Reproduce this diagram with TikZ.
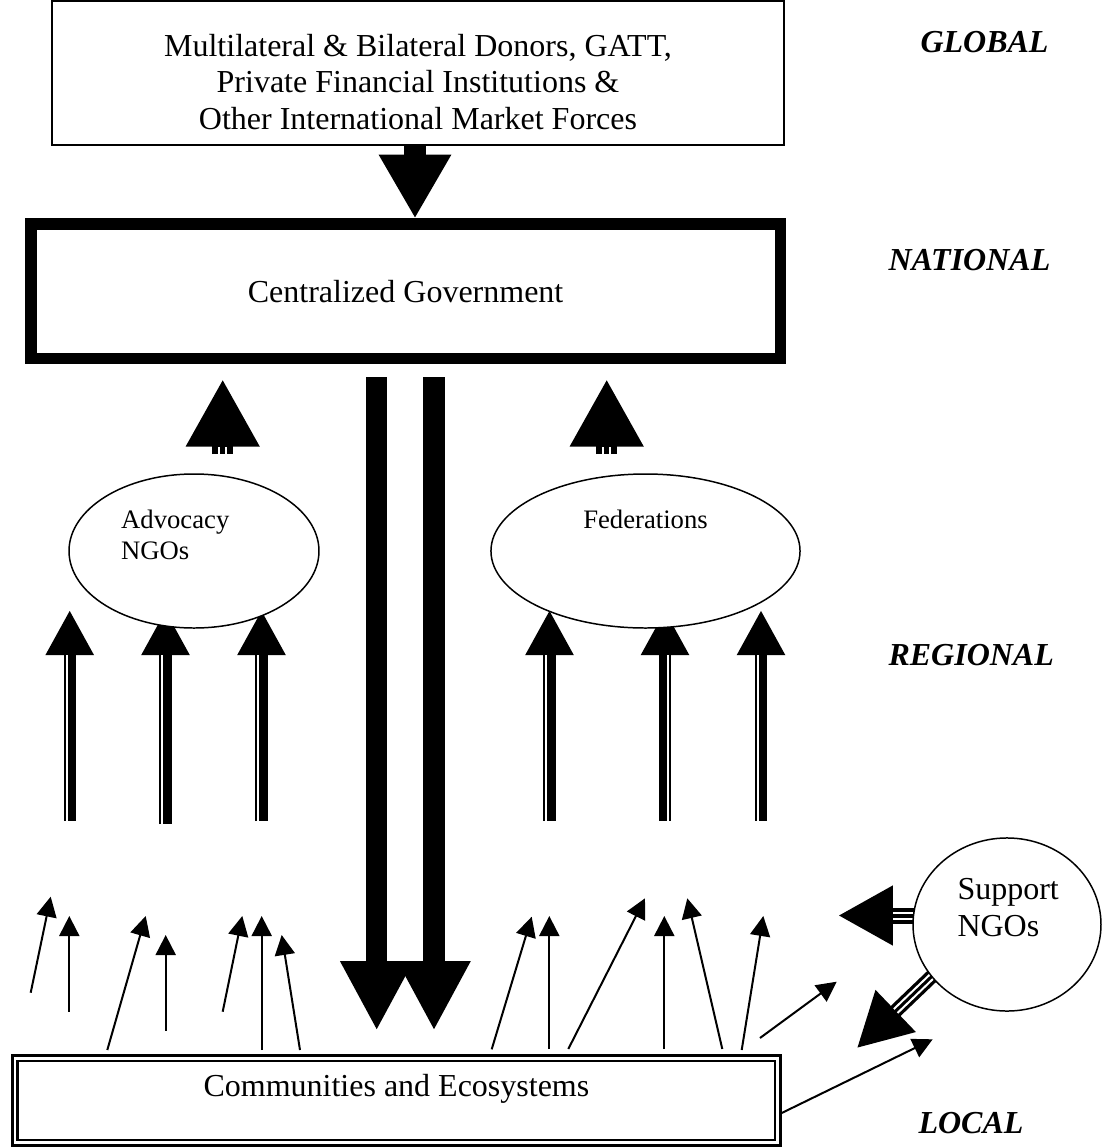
\documentclass[tikz,border=0pt]{standalone}
\usepackage{fontspec}
\setmainfont{Liberation Serif}
\usetikzlibrary{arrows.meta,calc,shapes.geometric}
\begin{document}
\begin{tikzpicture}[x=0.375pt,y=-0.375pt,
  txt/.style={font=\fontsize{12}{13.7}\selectfont},
  ovaltext/.style={font=\fontsize{10}{11.6}\selectfont},
  level/.style={font=\fontsize{12}{14}\selectfont\bfseries\itshape, anchor=base west, inner sep=0},
  thinarr/.style={line width=0.75pt, -{Triangle[length=7.5pt,width=7.5pt]}},
  fatup/.style={line width=4.65pt, -{Triangle[length=16.9pt,width=16.9pt]}},
  bigdown/.style={line width=8.06pt, -{Triangle[length=26.1pt,width=25.5pt]}},
  smalltri/.style={line width=7.9pt, -{Triangle[length=25.4pt,width=25.9pt]}},
  whitegap/.style={white, line width=0.75pt},
  oval/.style={ellipse, draw, fill=white, line width=0.56pt, inner sep=0, outer sep=0},
]
\useasboundingbox (0,0) rectangle (1106,1147);

% top box
\node[draw, line width=0.56pt, minimum width=274.5pt, minimum height=54pt, inner sep=0] (donors) at (418,73) {};
\node[txt, align=center] (donorstext) at (418,82) {Multilateral \& Bilateral Donors, GATT,\\Private Financial Institutions \&\\Other International Market Forces};

% government box
\node[draw, line width=4.31pt, minimum width=281.1pt, minimum height=50.4pt, inner sep=0, txt] (gov) at (405.6,291.25) {Centralized Government};

% communities box
\node[draw, double, line width=1pt, double distance=0.975pt, minimum width=286.0pt, minimum height=31.6pt, inner sep=0] (commbox) at (396.35,1100.4) {};
\node[txt] (comm) at (396.4,1089) {Communities and Ecosystems};

% top arrow
\coordinate (topS) at (415,145);
\coordinate (topE) at (415,218.5);
\draw[line width=8.25pt, -{Triangle[length=24pt,width=25.5pt]}] (topS) -- (topE);

% big down arrows
\coordinate (dlA) at (376.7,377); \coordinate (dlB) at (376.7,1030.7);
\coordinate (drA) at (434,377); \coordinate (drB) at (434,1030.7);
\draw[bigdown] (dlA) -- (dlB);
\draw[bigdown] (drA) -- (drB);

% small up triangles toward government
\coordinate (tlA) at (222.7,454); \coordinate (tlB) at (222.7,379);
\coordinate (trA) at (606.7,454); \coordinate (trB) at (606.7,379);
\draw[smalltri] (tlA) -- (tlB);
\draw[smalltri] (trA) -- (trB);
\foreach \cx in {222.7,606.7}{
  \draw[whitegap] ({\cx-3.6},455) -- ({\cx-3.6},446.5);
  \draw[whitegap] ({\cx+3.6},455) -- ({\cx+3.6},446.5);
}

% triple-line up arrows
\foreach \n/\cx/\by/\off in {L1/69.7/820.7/-3.1, L2/165.5/824/-3.1, L3/261.5/821/-3.1, R1/549.5/820.7/-3.1, R2/665/820.7/3.1, R3/761/820.7/-3.1}{
  \coordinate (s\n) at (\cx,\by);
  \coordinate (e\n) at (\cx,610);
  \draw[fatup] (s\n) -- (e\n);
  \draw[whitegap] ({\cx+\off},\by) -- ({\cx+\off},655);
}

% thin arrows
\foreach \i/\sx/\sy/\ex/\ey in {
  1/30.7/992.7/50.7/896.7,
  2/69.3/1011.7/69.3/916,
  3/107.3/1050/145.7/916,
  4/165.7/1030.7/165.7/935,
  5/222.7/1011.7/242.3/916,
  6/261.7/1050/261.7/916,
  7/300/1050/281.7/935,
  8/491.7/1049.3/531.7/916.7,
  9/549.3/1049/549.3/916,
  10/568.3/1049/645/898.3,
  11/664.3/1049/664.3/916,
  12/722.3/1049/687.3/898.3,
  13/741.7/1050/763.3/916,
  14/760/1038/836.7/981.7,
  15/781.7/1113/932.7/1039.3}{
  \coordinate (a\i) at (\sx,\sy);
  \coordinate (b\i) at (\ex,\ey);
  \draw[thinarr] (a\i) -- (b\i);
}

% support NGO arrows
\coordinate (slA) at (930,915.5); \coordinate (slB) at (838,915.5);
\draw[line width=6pt, -{Triangle[length=20.6pt,width=21pt]}] (slA) -- (slB);
\draw[whitegap] (930,912.5) -- (893,912.5);
\draw[whitegap] (930,918.5) -- (893,918.5);

\coordinate (sdA) at (940,968.5); \coordinate (sdB) at (856.7,1048.3);
\draw[line width=5.25pt, -{Triangle[length=20.25pt,width=20.3pt]}] (sdA) -- (sdB);
\draw[whitegap] (941.85,970.43) -- (897.55,1012.93);
\draw[whitegap] (938.15,966.57) -- (893.85,1009.07);

% ellipses
\node[oval, minimum width=93.75pt, minimum height=57.75pt] (adv) at (194,551) {};
\node[oval, minimum width=115.9pt, minimum height=57.75pt] (fed) at (645.5,551) {};
\node[oval, minimum width=70.5pt, minimum height=64.9pt] (sup) at (1007,924.5) {};
\node[ovaltext, align=left, anchor=west, inner sep=0] (advtext) at (120.7,534.5) {Advocacy\\NGOs};
\node[ovaltext, anchor=base, inner sep=0] (fedtext) at (645.5,528) {Federations};
\node[font=\fontsize{12}{13.9}\selectfont, align=left, anchor=west, inner sep=0] (suptext) at (957,907.6) {Support\\NGOs};

% level labels
\node[level] (global) at (920,52) {GLOBAL};
\node[level] (national) at (888,270) {NATIONAL};
\node[level] (regional) at (888,665) {REGIONAL};
\node[level] (local) at (918,1133) {LOCAL};
\end{tikzpicture}
\end{document}
